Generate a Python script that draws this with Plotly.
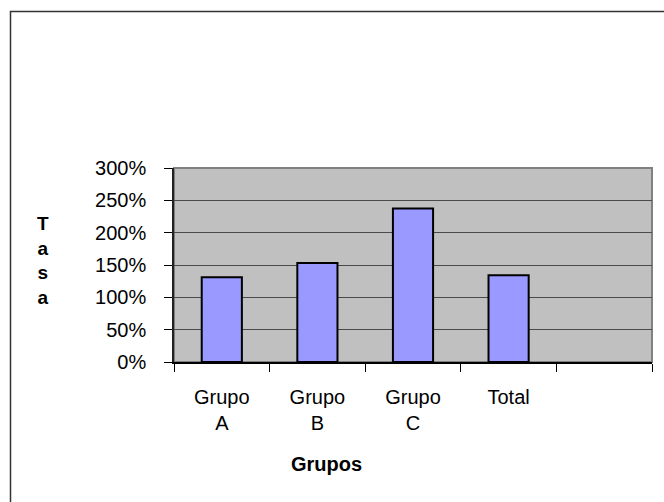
import plotly.graph_objects as go

categories = ["Grupo<br>A", "Grupo<br>B", "Grupo<br>C", "Total", " "]
values = [1.31, 1.53, 2.375, 1.34, None]
y_ticks = [0, 0.5, 1.0, 1.5, 2.0, 2.5, 3.0]
y_tick_text = ["0%", "50%", "100%", "150%", "200%", "250%", "300%"]

W, H = 664, 502
L, R, T, B = 174, 12, 168, 140
pw, ph = W - L - R, H - T - B

def px(x):
    return (x - L) / pw

def py(y):
    return (H - B - y) / ph

FAM = "Liberation Sans, Arial, sans-serif"
font = dict(family=FAM, size=20, color="black")

fig = go.Figure(go.Bar(
    x=categories, y=values,
    marker=dict(color="#9999FF", line=dict(color="black", width=2)),
))

fig.update_layout(
    width=W, height=H,
    margin=dict(l=L, r=R, t=T, b=B, pad=0),
    paper_bgcolor="white", plot_bgcolor="#C0C0C0",
    bargap=0.58, showlegend=False, font=font,
    xaxis=dict(
        type="category", categoryorder="array", categoryarray=categories,
        tickson="boundaries", ticks="outside", ticklen=8, tickcolor="black",
        showline=True, linecolor="black", linewidth=1.5,
        showgrid=False, ticklabelstandoff=16, tickfont=font,
    ),
    yaxis=dict(
        range=[0, 3], tickvals=y_ticks, ticktext=y_tick_text,
        ticks="outside", ticklen=8, tickcolor="black",
        showline=True, linecolor="#222", linewidth=1.5,
        showgrid=True, gridcolor="#4a4a4a", gridwidth=1.2,
        zeroline=False, ticklabelstandoff=14, tickfont=font,
    ),
    shapes=[
        dict(type="rect", xref="paper", yref="paper", x0=0, x1=1, y0=0, y1=1,
             line=dict(color="#808080", width=2), layer="below"),
        dict(type="rect", xref="paper", yref="paper",
             x0=px(10.5), x1=px(690), y0=py(540), y1=py(11.5),
             line=dict(color="#333333", width=1.5)),
    ],
    annotations=[
        dict(text="<b>T<br>a<br>s<br>a</b>", xref="paper", yref="paper",
             x=px(43), y=py(260), xanchor="center", yanchor="middle",
             showarrow=False, font=dict(family=FAM, size=19, color="black")),
        dict(text="<b>Grupos</b>", xref="paper", yref="paper",
             x=px(326), y=py(464), xanchor="center", yanchor="middle",
             showarrow=False, font=dict(family=FAM, size=20, color="black")),
    ],
)

fig.write_html("out.html", config={"displayModeBar": False},
               post_script="document.body.style.margin='0';document.body.style.overflow='hidden';")
